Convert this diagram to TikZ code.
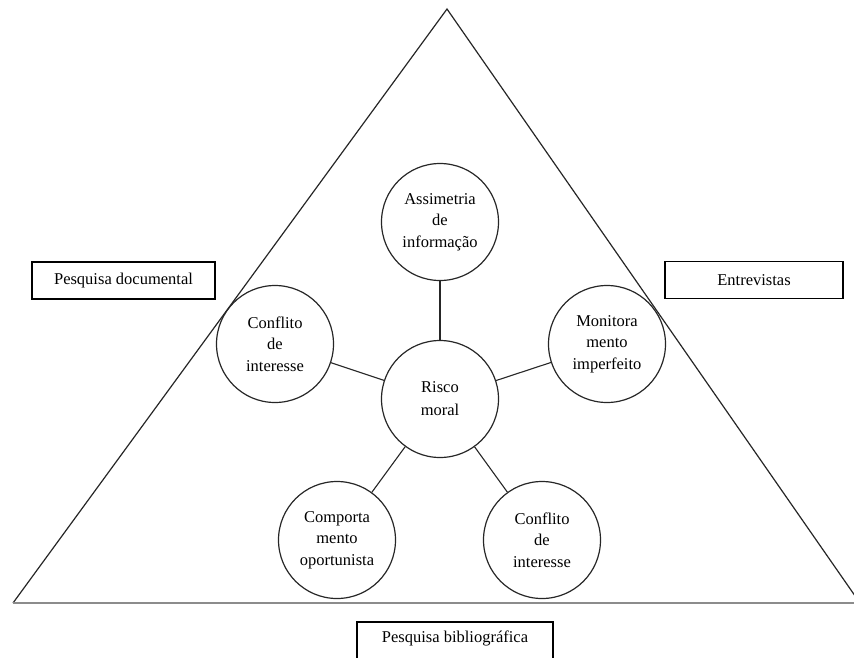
\documentclass[tikz,border=0pt]{standalone}
\usepackage{fontspec}
\setmainfont{Liberation Serif}
\usetikzlibrary{positioning}
\begin{document}
\begin{tikzpicture}
[x=1pt,y=-1pt,
edge/.style={black!85, line width=1.1pt},
side/.style={black!85, line width=1.2pt},
circ/.style={draw=black!85,circle,line width=1.2pt,minimum size=117pt,inner sep=0pt,
  align=center,font=\fontsize{16.5}{21.5}\selectfont},
srcbox/.style={draw=black,line width=1.2pt,minimum height=37pt,inner sep=0pt,
  font=\fontsize{16.5}{20}\selectfont}]
\useasboundingbox (0,0) rectangle (854,657);
\clip (0,0) rectangle (854,657);
%% triangle
\coordinate (apex) at (447,9);
\coordinate (bl) at (13,603);
\coordinate (br) at (860,603);
\draw[side] (bl) -- (apex) -- (br);
\draw[black!45, line width=1.8pt] (bl) -- (br);
%% sources
\node[srcbox,minimum width=183pt] (doc) at (123.5,280.5) {Pesquisa documental};
\node[srcbox,minimum width=178pt] (entr) at (754,280) {Entrevistas};
\node[srcbox,minimum width=196pt,minimum height=60pt,text depth=30pt] (bib) at (455,652) {Pesquisa bibliográfica};
%% circles
\node[circ] (risco) at (440,399) {Risco\\[1.5pt]moral};
\node[circ] (assim) at (440,222) {Assimetria\\de\\informação};
\node[circ] (confl) at (275,344) {Conflito\\de\\interesse};
\node[circ] (monit) at (607,344) {Monitora\\mento\\imperfeito};
\node[circ] (compo) at (337,540) {Comporta\\mento\\oportunista};
\node[circ] (confr) at (542,540) {Conflito\\de\\interesse};
%%
\foreach \n in {assim,confl,monit,compo,confr}
  \draw[edge] (risco) -- (\n);
\end{tikzpicture}
\end{document}
